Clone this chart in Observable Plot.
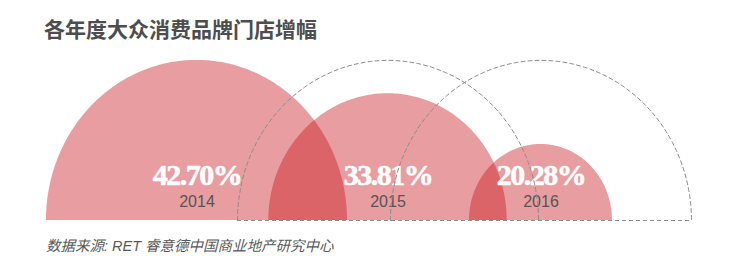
<!DOCTYPE html>
<html>
<head>
<meta charset="utf-8">
<script src="https://cdn.jsdelivr.net/npm/d3@7"></script>
<script src="https://cdn.jsdelivr.net/npm/@observablehq/plot@0.6"></script>
<style>
  html, body { margin: 0; padding: 0; background: #fff; }
  #wrap { width: 737px; height: 264px; position: relative; overflow: hidden; }
  #title { height: 56px; line-height: 56px; padding-left: 44px; font-family: "Noto Sans CJK SC", sans-serif; font-weight: 700; font-size: 21px; color: #4d4d4d; white-space: nowrap; }
  #chart svg { display: block; }
  #caption { height: 32px; line-height: 28px; padding-left: 46px; font-family: "Liberation Sans", "Noto Sans CJK SC", sans-serif; font-style: italic; font-size: 14.5px; color: #595959; white-space: nowrap; }
</style>
</head>
<body>
<div id="wrap">
  <div id="title">各年度大众消费品牌门店增幅</div>
  <div id="chart"></div>
  <div id="caption">数据来源: RET 睿意德中国商业地产研究中心</div>
</div>
<script>
// ---- data ----
const years = ["2014", "2015", "2016"];
const values = [42.70, 33.81, 20.28];          // 门店增幅 (%)
const centers = [55.74, 109.93, 153.33];       // position of each year's half-circle along the track (value units)
const refYears = ["2015", "2016"];             // dashed outlines: 2014 level drawn at later years
const refValue = values[0];

// ---- geometry helpers (built from the data) ----
function half(c, r, n = 160) {
  return d3.range(n + 1).map(i => {
    const t = Math.PI * i / n;
    return { x: c - r * Math.cos(t), y: r * Math.sin(t) };
  });
}

const fills = years.flatMap((yr, i) => half(centers[i], values[i]).map(p => ({ ...p, year: yr })));
const rings = refYears.flatMap(yr => {
  const c = centers[years.indexOf(yr)];
  return half(c, refValue).map(p => ({ ...p, ring: yr }));
});
const ringLeft = d3.min(refYears, yr => centers[years.indexOf(yr)] - refValue);
const ringRight = d3.max(refYears, yr => centers[years.indexOf(yr)] + refValue);
const labels = years.map((yr, i) => ({ year: yr, x: centers[i], pct: values[i].toFixed(2) + "%" }));

const W = 737, H = 176, base = 164;
const kx = 3.525, ky = 3.75;

const chart = Plot.plot({
  width: W,
  height: H,
  margin: 0,
  x: { axis: null, domain: [0, W / kx], range: [0, W] },
  y: { axis: null, domain: [0, base / ky], range: [base, 0] },
  marks: [
    Plot.areaY(fills, { x: "x", y1: 0, y2: "y", z: "year", fill: "#c8161d", fillOpacity: 0.42, curve: "linear" }),
    Plot.text(labels, {
      x: "x", y: 0, text: "pct", dy: -45.5, fill: "white", stroke: "white", strokeWidth: 0.6,
      fontSize: 30, fontWeight: "bold",
      fontFamily: "Liberation Serif, DejaVu Serif, serif"
    }),
    Plot.text(labels, {
      x: "x", y: 0, text: "year", dy: -19, fill: "#555555", fontSize: 16,
      fontFamily: "Liberation Sans, Arial, sans-serif"
    }),
    Plot.line(rings, { x: "x", y: "y", z: "ring", stroke: "#8c8c8c", strokeWidth: 1, strokeDasharray: "4,3", curve: "linear" }),
    Plot.ruleY([0], { x1: ringLeft, x2: ringRight, stroke: "#8c8c8c", strokeWidth: 1, strokeDasharray: "4,3" })
  ]
});
d3.select(chart).selectAll("text")
  .filter(function () { return /%$/.test(this.textContent); })
  .style("letter-spacing", "-1.5px");
document.getElementById("chart").appendChild(chart);
</script>
</body>
</html>
